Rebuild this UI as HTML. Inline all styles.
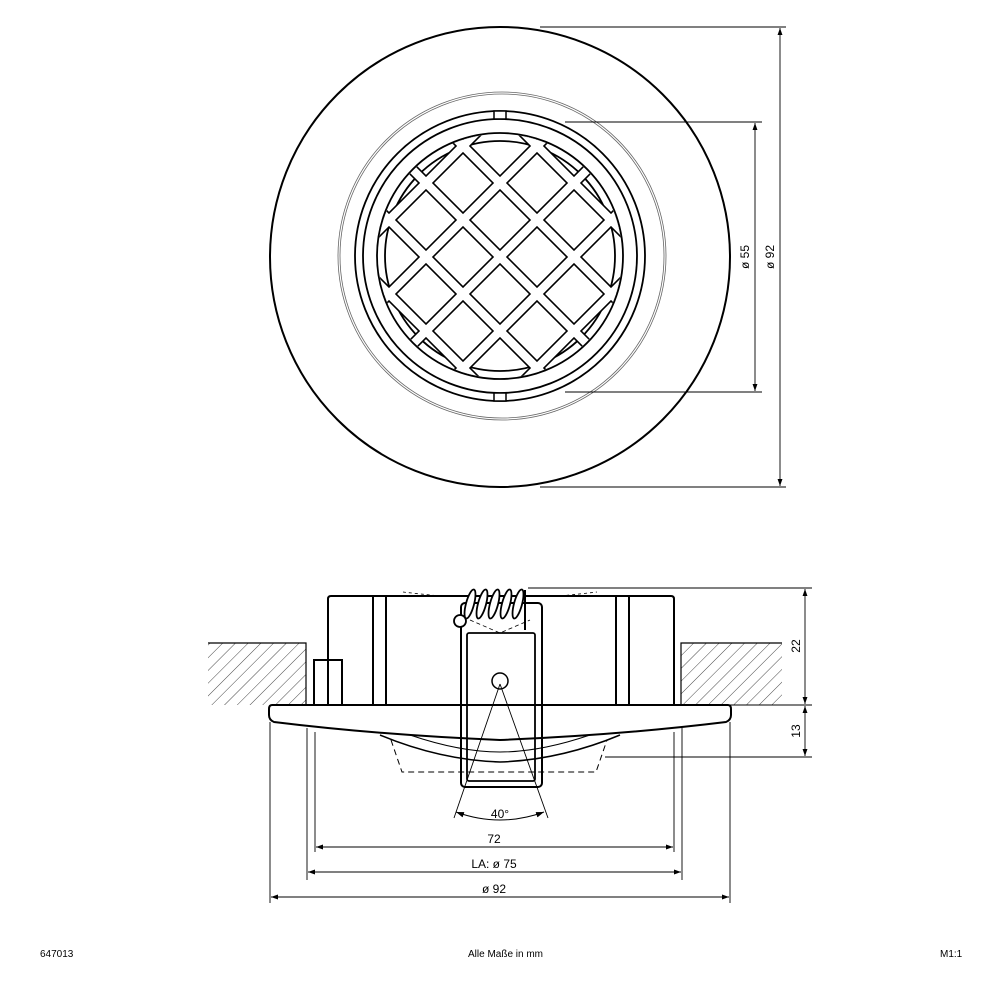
<!DOCTYPE html>
<html><head><meta charset="utf-8"><style>
html,body{margin:0;padding:0;background:#fff;}
svg{display:block;}
text{font-family:"Liberation Sans",sans-serif;fill:#000;}
</style></head><body>
<svg width="1000" height="1000" viewBox="0 0 1000 1000" xmlns="http://www.w3.org/2000/svg">
<defs>
<marker id="a" viewBox="0 0 10 10" refX="10" refY="5" markerWidth="8" markerHeight="8" orient="auto-start-reverse"><path d="M0,1.5 L10,5 L0,8.5 z" fill="#000"/></marker>
<clipPath id="cg"><circle cx="500" cy="256" r="122"/></clipPath>
<pattern id="h" width="9" height="9" patternUnits="userSpaceOnUse" patternTransform="rotate(45)"><line x1="0" y1="0" x2="0" y2="9" stroke="#333" stroke-width="0.9"/></pattern>
</defs>
<g fill="none" stroke="#000">
<!-- TOP VIEW -->
<circle cx="500" cy="257" r="230" stroke-width="2"/>
<circle cx="502" cy="256" r="164" stroke-width="0.8" stroke="#666"/>
<circle cx="502" cy="256" r="162" stroke-width="0.8" stroke="#666"/>
<circle cx="500" cy="256" r="145" stroke-width="1.8"/>
<circle cx="500" cy="256" r="137" stroke-width="1.8"/>
<circle cx="500" cy="256" r="123" stroke-width="1.8"/>
<circle cx="500" cy="256" r="115" stroke-width="1.8"/>
<g clip-path="url(#cg)" stroke-linecap="butt">
<g stroke-width="11.5">
<path d="M200,105 L800,705 M200,31 L800,631 M200,-43 L800,557 M200,-117 L800,483 M200,-191 L800,409"/>
<path d="M200,409 L800,-191 M200,483 L800,-117 M200,557 L800,-43 M200,631 L800,31 M200,705 L800,105"/>
</g>
<g stroke-width="8.3" stroke="#fff">
<path d="M200,105 L800,705 M200,31 L800,631 M200,-43 L800,557 M200,-117 L800,483 M200,-191 L800,409"/>
<path d="M200,409 L800,-191 M200,483 L800,-117 M200,557 L800,-43 M200,631 L800,31 M200,705 L800,105"/>
</g>
</g>
<rect x="494" y="111" width="12" height="8" stroke-width="1.5" fill="#fff"/>
<rect x="494" y="393" width="12" height="8" stroke-width="1.5" fill="#fff"/>
<!-- top dims -->
<g stroke-width="0.9">
<line x1="540" y1="27" x2="786" y2="27"/>
<line x1="540" y1="487" x2="786" y2="487"/>
<line x1="780" y1="28" x2="780" y2="486" marker-start="url(#a)" marker-end="url(#a)"/>
<line x1="565" y1="122" x2="762" y2="122"/>
<line x1="565" y1="392" x2="762" y2="392"/>
<line x1="755" y1="123" x2="755" y2="391" marker-start="url(#a)" marker-end="url(#a)"/>
</g>
<!-- SIDE VIEW -->
<rect x="208" y="643" width="98" height="62" fill="url(#h)" stroke="none"/>
<rect x="681" y="643" width="101" height="62" fill="url(#h)" stroke="none"/>
<path d="M208,643 H306 V705 M681,705 V643 H782" stroke-width="1.2"/>
<path d="M328,705 V599 Q328,596 331,596 H671 Q674,596 674,599 V705" stroke-width="2"/>
<path d="M373,596 V705 M386,596 V705 M616,596 V705 M629,596 V705" stroke-width="2"/>
<rect x="314" y="660" width="28" height="45" stroke-width="2"/>
<path d="M272,705 H728 Q731,705 731,709 V715 Q731,720 726,722 Q620,735 500,740 Q380,735 274,722 Q269,720 269,715 V709 Q269,705 272,705 Z" stroke-width="2"/>
<path d="M380,735 Q440,760 500,762 Q560,760 620,735" stroke-width="1.5"/>
<path d="M410,735 Q460,752 500,752 Q540,752 590,735" stroke-width="1"/>
<path d="M391,740 L402,772 H596 L607,740" stroke-width="1" stroke-dasharray="6,4"/>
<path d="M403,592 Q420,594 440,596 M560,596 Q580,594 597,592" stroke-width="0.8" stroke-dasharray="3,3"/>
<!-- clip -->
<rect x="461" y="603" width="81" height="184" rx="4" stroke-width="2"/>
<rect x="467" y="633" width="68" height="148" rx="2" stroke-width="1.8"/>
<circle cx="460" cy="621" r="6" stroke-width="1.8" fill="#fff"/>
<g stroke-width="1.8" fill="#fff">
<ellipse cx="470" cy="604" rx="4" ry="15" transform="rotate(15 470 604)"/>
<ellipse cx="482" cy="604" rx="4" ry="15" transform="rotate(15 482 604)"/>
<ellipse cx="494" cy="604" rx="4" ry="15" transform="rotate(15 494 604)"/>
<ellipse cx="506" cy="604" rx="4" ry="15" transform="rotate(15 506 604)"/>
<ellipse cx="518" cy="604" rx="4" ry="15" transform="rotate(15 518 604)"/>
</g>
<line x1="525" y1="590" x2="525" y2="630" stroke-width="2"/>
<path d="M470,620 L500,633 L530,620" stroke-width="0.8" stroke-dasharray="4,3"/>
<circle cx="500" cy="681" r="8" stroke-width="1.5" fill="#fff"/>
<path d="M500,684 L454,818 M500,684 L548,818" stroke-width="0.9"/>
<path d="M456,812 Q500,828 544,812" stroke-width="1" marker-start="url(#a)" marker-end="url(#a)"/>
<!-- side dims -->
<g stroke-width="0.9">
<line x1="528" y1="588" x2="812" y2="588"/>
<line x1="730" y1="705" x2="812" y2="705"/>
<line x1="605" y1="757" x2="812" y2="757"/>
<line x1="805" y1="589" x2="805" y2="704" marker-start="url(#a)" marker-end="url(#a)"/>
<line x1="805" y1="706" x2="805" y2="756" marker-start="url(#a)" marker-end="url(#a)"/>
<line x1="270" y1="722" x2="270" y2="903"/><line x1="730" y1="722" x2="730" y2="903"/>
<line x1="307" y1="728" x2="307" y2="880"/><line x1="682" y1="728" x2="682" y2="880"/>
<line x1="315" y1="732" x2="315" y2="852"/><line x1="674" y1="732" x2="674" y2="852"/>
<line x1="316" y1="847" x2="673" y2="847" marker-start="url(#a)" marker-end="url(#a)"/>
<line x1="308" y1="872" x2="681" y2="872" marker-start="url(#a)" marker-end="url(#a)"/>
<line x1="271" y1="897" x2="729" y2="897" marker-start="url(#a)" marker-end="url(#a)"/>
</g>
</g>
<text x="774" y="257" font-size="12" text-anchor="middle" transform="rotate(-90 774 257)">ø 92</text>
<text x="749" y="257" font-size="12" text-anchor="middle" transform="rotate(-90 749 257)">ø 55</text>
<text x="800" y="646" font-size="12" text-anchor="middle" transform="rotate(-90 800 646)">22</text>
<text x="800" y="731" font-size="12" text-anchor="middle" transform="rotate(-90 800 731)">13</text>
<text x="500" y="818" font-size="12" text-anchor="middle">40°</text>
<text x="494" y="843" font-size="12" text-anchor="middle">72</text>
<text x="494" y="868" font-size="12" text-anchor="middle">LA: ø 75</text>
<text x="494" y="893" font-size="12" text-anchor="middle">ø 92</text>
<text x="40" y="957" font-size="10">647013</text>
<text x="468" y="957" font-size="10">Alle Maße in mm</text>
<text x="940" y="957" font-size="10">M1:1</text>
</svg>
</body></html>
